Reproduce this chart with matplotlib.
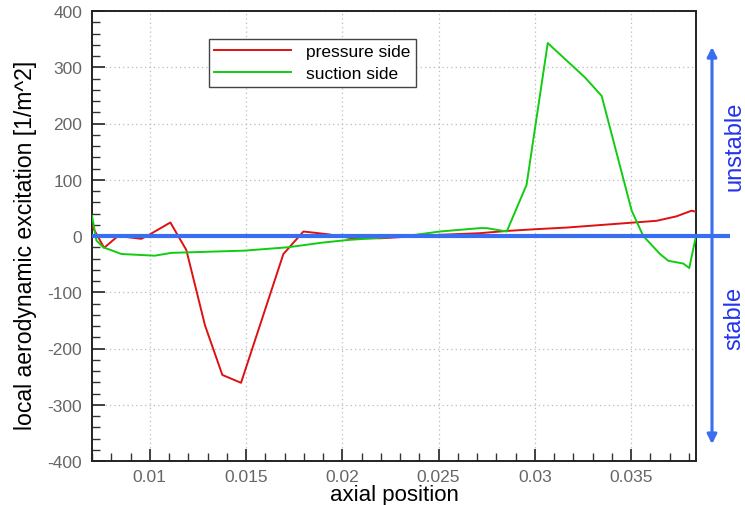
import matplotlib
matplotlib.use("Agg")
import matplotlib.pyplot as plt
from matplotlib.ticker import MultipleLocator, FixedLocator
import matplotlib.transforms as mtransforms

plt.rcParams['font.family'] = ['Liberation Sans', 'DejaVu Sans']
plt.rcParams['axes.unicode_minus'] = False

# pressure side (red)
ps_x = [0.00700, 0.00763, 0.00835, 0.00956, 0.00996, 0.01107, 0.01190, 0.01287,
        0.01377, 0.01474, 0.01694, 0.01798, 0.01927, 0.02050, 0.02200, 0.02500,
        0.02715, 0.02854, 0.03000, 0.03165, 0.03400, 0.03632, 0.03736, 0.03814, 0.03837]
ps_y = [18, -21, 0, -5, 2, 24, -25, -159,
        -247, -261, -32, 8, 3, -4, -4, 2,
        5, 9, 12, 15, 21, 27, 35, 45, 43]

# suction side (green)
ss_x = [0.00700, 0.00723, 0.00758, 0.00853, 0.01026, 0.01112, 0.01493, 0.01718,
        0.01891, 0.02030, 0.02334, 0.02507, 0.02715, 0.02750, 0.02854, 0.02957,
        0.03067, 0.03165, 0.03260, 0.03347, 0.03503, 0.03563, 0.03650, 0.03693,
        0.03771, 0.03802, 0.03837]
ss_y = [36, -8, -20, -32, -35, -30, -26, -20,
        -12, -7, 0, 8, 14, 14, 8, 91,
        343, 312, 282, 249, 45, 0, -32, -44,
        -49, -57, 0]

xticks = [0.01, 0.015, 0.02, 0.025, 0.03, 0.035]
xtick_labels = ['0.01', '0.015', '0.02', '0.025', '0.03', '0.035']
yticks = [-400, -300, -200, -100, 0, 100, 200, 300, 400]

fig = plt.figure(figsize=(7.45, 5.06), dpi=100)
ax = fig.add_axes([92/745, 1-462/506, (696-92)/745, (462-12)/506])

ax.plot(ps_x, ps_y, color='#dd1111', lw=1.4, label='pressure side', zorder=3)
ax.plot(ss_x, ss_y, color='#11cc11', lw=1.4, label='suction side', zorder=3)

ax.set_xlim(0.007, 0.03837)
ax.set_ylim(-400, 400)
ax.xaxis.set_major_locator(FixedLocator(xticks))
ax.set_xticklabels(xtick_labels)
ax.xaxis.set_minor_locator(MultipleLocator(0.001))
ax.yaxis.set_major_locator(FixedLocator(yticks))
ax.yaxis.set_minor_locator(MultipleLocator(20))
ax.tick_params(which='both', direction='in', top=False, right=False,
               labelsize=12.5, labelcolor='#666666', color='#333333')
ax.tick_params(axis='x', which='major', pad=6)
ax.tick_params(axis='y', which='major', pad=7)
ax.tick_params(which='major', length=9, width=1.3)
ax.tick_params(which='minor', length=6, width=1.0)
ax.grid(True, which='major', linestyle=(0, (1, 2.5)), color='#bbbbbb', lw=0.9)
for s in ax.spines.values():
    s.set_linewidth(1.4)
    s.set_color('#222222')

ax.set_xlabel('axial position', fontsize=16, labelpad=0)
ax.set_ylabel('local aerodynamic excitation [1/m^2]', fontsize=16.6)
ax.yaxis.set_label_coords(-0.0907, 0.482)

leg = ax.legend(loc='upper left', bbox_to_anchor=((209-92)/604, 1-(40-12)/450),
                borderaxespad=0, fontsize=12.5, handlelength=4.4, fancybox=False,
                framealpha=1, edgecolor='#444444', labelspacing=0.4,
                borderpad=0.3, handletextpad=0.9)
leg.get_frame().set_linewidth(1.0)

# stability annotations
trans = mtransforms.blended_transform_factory(ax.transAxes, ax.transData)
blue = '#3a6ef0'
ax.plot([0, (730-92)/604], [0, 0], color=blue, lw=3, transform=trans,
        clip_on=False, zorder=4, solid_capstyle='butt')
xa = (712-92)/604
ax.annotate('', xy=(xa, 336), xytext=(xa, -370), xycoords=trans, textcoords=trans,
            arrowprops=dict(arrowstyle='<|-|>', color=blue, lw=2.2,
                            mutation_scale=14, shrinkA=0, shrinkB=0),
            annotation_clip=False)
xt = (734-92)/604
ax.text(xt, 161, 'unstable', transform=trans, rotation=90, ha='center', va='center',
        color='#2233ee', fontsize=17, clip_on=False)
ax.text(xt, -144, 'stable', transform=trans, rotation=90, ha='center', va='center',
        color='#2233ee', fontsize=17, clip_on=False)

fig.savefig('out.png', dpi=100)
